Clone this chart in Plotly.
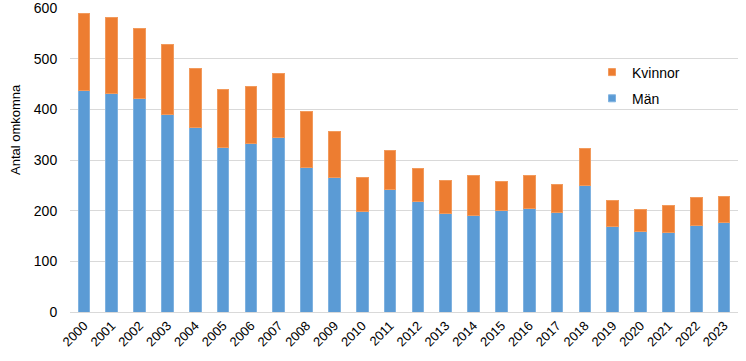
import plotly.graph_objects as go

years = [str(y) for y in range(2000, 2024)]
totals = [590, 582, 559, 528, 480, 439, 445, 470, 396, 357, 265, 318, 284, 259, 269, 258, 269, 251, 323, 221, 203, 210, 226, 228]
man = [438, 432, 422, 390, 364, 324, 333, 344, 286, 265, 198, 241, 218, 195, 191, 201, 204, 196, 249, 168, 158, 156, 171, 176]
kvinnor = [t - m for t, m in zip(totals, man)]

BLUE = "#5B9BD5"
ORANGE = "#ED7D31"

fig = go.Figure()
fig.add_trace(go.Bar(x=years, y=man, name="Män", showlegend=False,
                     marker=dict(color=BLUE, line=dict(color="#7FB2E0", width=1))))
fig.add_trace(go.Bar(x=years, y=kvinnor, name="Kvinnor", showlegend=False,
                     marker=dict(color=ORANGE, line=dict(color="#F29A5C", width=1))))
# legend entries (small square markers as in the reference)
fig.add_trace(go.Scatter(x=[None], y=[None], mode="markers", name="Kvinnor", legendgroup="k",
                         marker=dict(symbol="square", size=7, color=ORANGE, line=dict(color="#F29A5C", width=1))))
fig.add_trace(go.Scatter(x=[None], y=[None], mode="markers", name="Män", legendgroup="m",
                         marker=dict(symbol="square", size=7, color=BLUE, line=dict(color="#7FB2E0", width=1))))

L, T, B, R = 70, 8, 49, 8
PW, PH = 746 - L - R, 361 - T - B

fig.update_layout(
    barmode="stack",
    bargap=0.58,
    width=746, height=361,
    margin=dict(l=L, r=R, t=T, b=B),
    plot_bgcolor="white", paper_bgcolor="white",
    font=dict(family="Liberation Sans, Arial", size=13, color="#000"),
    showlegend=True,
    legend=dict(x=(592 - L) / PW, y=(PH + T - 56.5) / PH, xanchor="left", yanchor="top",
                font=dict(size=14), itemwidth=30, bgcolor="rgba(0,0,0,0)", tracegroupgap=5),
    xaxis=dict(tickangle=-45, showgrid=False, showline=True, linecolor="#D9D9D9", linewidth=1, ticks="",
               tickfont=dict(size=13), automargin=False),
    yaxis=dict(range=[0, 600], dtick=100, showgrid=True, gridcolor="#D9D9D9", zeroline=False,
               ticks="outside", ticklen=9, tickcolor="rgba(0,0,0,0)", ticklabeloverflow="allow",
               tickfont=dict(size=14), automargin=False),
    annotations=[dict(text="Antal omkomna", textangle=-90, xref="paper", yref="paper",
                      x=(15 - L) / PW, y=(PH + T - 130) / PH, showarrow=False,
                      font=dict(size=13), xanchor="center", yanchor="middle")],
)
fig.write_html("out.html", post_script="document.body.style.margin='0';",
               config={"displayModeBar": False})
